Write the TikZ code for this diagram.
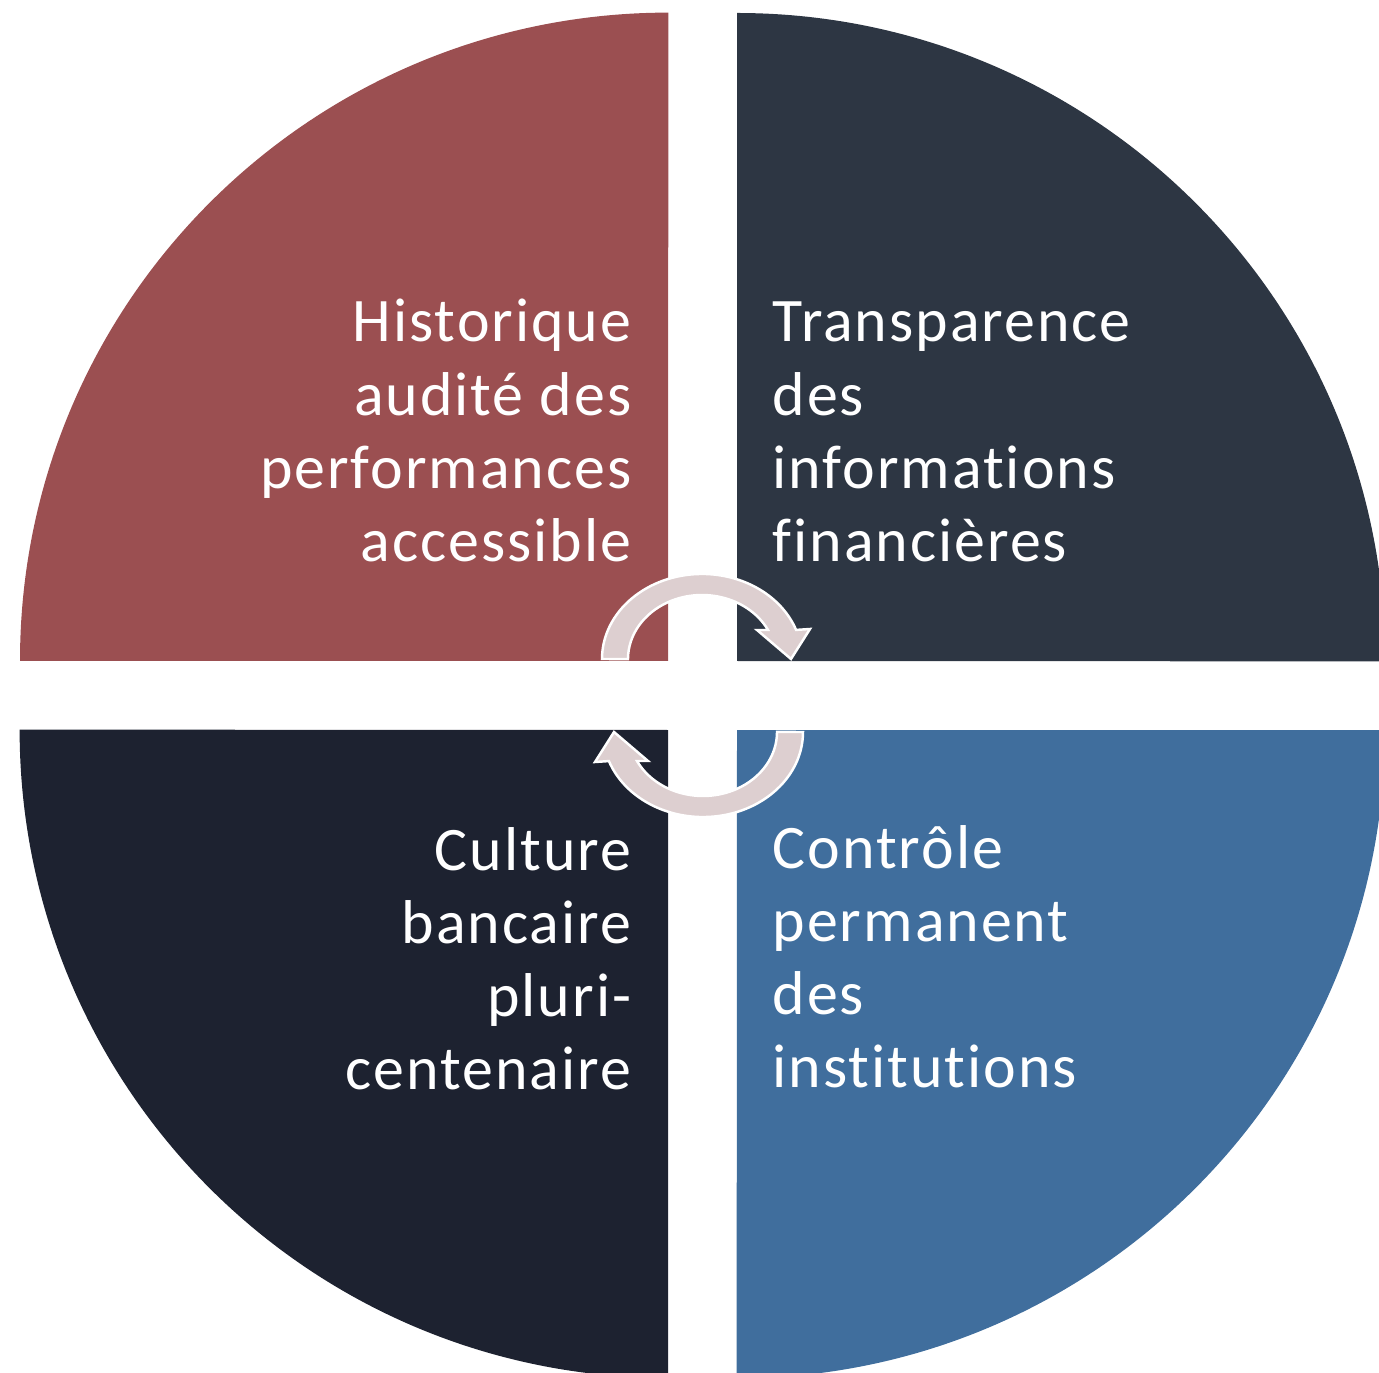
\documentclass[tikz,border=0pt]{standalone}
\usepackage{fontspec}
\setmainfont{Carlito}[Ligatures=NoCommon, LetterSpace=3.2]
\definecolor{qTL}{RGB}{155,79,81}
\definecolor{qTR}{RGB}{45,54,67}
\definecolor{qBL}{RGB}{29,34,48}
\definecolor{qBR}{RGB}{64,110,157}
\definecolor{arrowfill}{RGB}{221,207,208}
\tikzset{
  quad/.style={draw=none},
  cyclearrow/.style={fill=arrowfill, draw=white, line width=0.7pt, line join=miter},
  label/.style={text=white, inner sep=0pt, font=\fontsize{17.6pt}{20.78pt}\selectfont}
}
\newcommand{\blockR}[1]{\renewcommand{\arraystretch}{1}\begin{tabular}[t]{@{}r@{}}#1\end{tabular}}
\newcommand{\blockL}[1]{\renewcommand{\arraystretch}{1}\begin{tabular}[t]{@{}l@{}}#1\end{tabular}}
\begin{document}
\begin{tikzpicture}[x=0.01cm,y=0.01cm]
\useasboundingbox (0,0) rectangle (1379,1372);
\clip (0,0) rectangle (1379,1372);
% quadrants
\fill[qTL,quad] (668,711) -- (20,711) arc[start angle=180,end angle=90,radius=6.48cm] -- cycle;
\fill[qTR,quad] (737,711) -- (737,1359) arc[start angle=90,end angle=0,radius=6.48cm] -- cycle;
\fill[qBL,quad] (668,642) -- (668,-6) arc[start angle=270,end angle=180,radius=6.48cm] -- cycle;
\fill[qBR,quad] (737,642) -- (1385,642) arc[start angle=0,end angle=-90,radius=6.48cm] -- cycle;
% texts
\node[label, anchor=base east] (tl) at (632,1030) {\blockR{Historique\\audité des\\performances\\accessible}};
\node[label, anchor=base west] (tr) at (772,1030) {\blockL{Transparence\\des\\informations\\financières}};
\node[label, anchor=base east] (bl) at (632,502) {\blockR{Culture\\bancaire\\pluri-\\centenaire}};
\node[label, anchor=base west] (br) at (772,504) {\blockL{Contrôle\\permanent\\des\\institutions}};
% circular arrows
\path[cyclearrow] (602,713) arc[start angle=180,end angle=20,x radius=1cm,y radius=0.85cm]
  -- (810,743) -- (791,713) -- (757,742) -- (768,742)
  arc[start angle=27,end angle=180,x radius=0.74cm,y radius=0.64cm] -- cycle;
\begin{scope}[rotate around={180:(702.5,676.5)}]
\path[cyclearrow] (602,713) arc[start angle=180,end angle=20,x radius=1cm,y radius=0.85cm]
  -- (810,743) -- (791,713) -- (757,742) -- (768,742)
  arc[start angle=27,end angle=180,x radius=0.74cm,y radius=0.64cm] -- cycle;
\end{scope}
\end{tikzpicture}
\end{document}
